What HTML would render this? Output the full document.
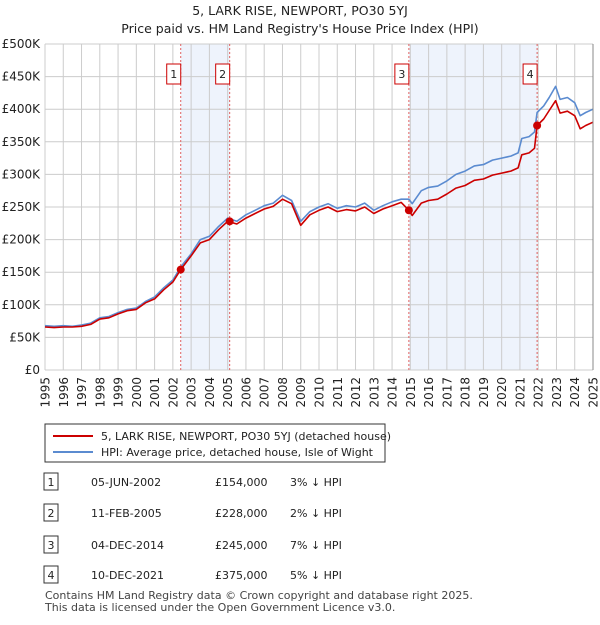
<!DOCTYPE html>
<html><head><meta charset="utf-8"><style>
body{margin:0;background:#fff;font-family:"Liberation Sans","DejaVu Sans",sans-serif;}
svg text{font-family:"DejaVu Sans","Liberation Sans",sans-serif;}
</style></head><body>
<svg id="c" width="600" height="620" viewBox="0 0 600 620" xmlns="http://www.w3.org/2000/svg">
<text x="300" y="15" text-anchor="middle" font-size="12.5" fill="#222">5, LARK RISE, NEWPORT, PO30 5YJ</text>
<text x="300" y="33" text-anchor="middle" font-size="12.5" fill="#222">Price paid vs. HM Land Registry's House Price Index (HPI)</text>
<g id="plot"></g>
<g>
<rect x="45" y="424" width="340" height="38" fill="#fff" stroke="#333" stroke-width="1"/>
<line x1="53" y1="436" x2="93" y2="436" stroke="#cc0000" stroke-width="2"/>
<text x="101" y="440" font-size="11" fill="#222">5, LARK RISE, NEWPORT, PO30 5YJ (detached house)</text>
<line x1="53" y1="452" x2="93" y2="452" stroke="#5b8bd0" stroke-width="2"/>
<text x="101" y="456" font-size="11" fill="#222">HPI: Average price, detached house, Isle of Wight</text>
</g>
<g id="table"></g>
<text x="45" y="599" font-size="11" fill="#444">Contains HM Land Registry data © Crown copyright and database right 2025.</text>
<text x="45" y="611" font-size="11" fill="#444">This data is licensed under the Open Government Licence v3.0.</text>
</svg>
<script>
const years=[1995.0,1995.5,1996.0,1996.5,1997.0,1997.5,1998.0,1998.5,1999.0,1999.5,2000.0,2000.5,2001.0,2001.5,2002.0,2002.43,2003.0,2003.5,2004.0,2004.5,2005.0,2005.5,2006.0,2006.5,2007.0,2007.5,2008.0,2008.5,2009.0,2009.5,2010.0,2010.5,2011.0,2011.5,2012.0,2012.5,2013.0,2013.5,2014.0,2014.5,2014.92,2015.1,2015.6,2016.0,2016.5,2017.0,2017.5,2018.0,2018.5,2019.0,2019.5,2020.0,2020.5,2020.9,2021.1,2021.5,2021.8,2021.94,2022.3,2022.6,2022.95,2023.2,2023.6,2024.0,2024.3,2024.6,2025.0];
const hpiValues=[68,67,68,67,69,72,80,82,88,93,95,105,112,126,138,158,178,200,205,220,233,228,238,245,252,256,268,260,228,243,250,255,248,252,250,256,245,252,258,262,262,255,275,280,282,290,300,305,313,315,322,325,328,333,355,358,365,395,405,418,435,415,418,410,390,395,400];
const propertyValues=[66,65,66,66,67,70,78,80,86,91,93,103,109,123,135,154,175,195,200,215,228,224,233,240,247,251,262,255,222,238,245,250,243,246,244,250,240,247,252,257,245,237,256,260,262,270,279,283,291,293,299,302,305,310,330,333,340,375,385,398,413,394,397,390,370,375,380];
const saleLabels=["1","2","3","4"];
const saleDates=[2002.43,2005.11,2014.92,2021.94];
const salePrices=[154,228,245,375];
const saleDateText=["05-JUN-2002","11-FEB-2005","04-DEC-2014","10-DEC-2021"];
const salePriceText=["£154,000","£228,000","£245,000","£375,000"];
const saleHpiText=["3% ↓ HPI","2% ↓ HPI","7% ↓ HPI","5% ↓ HPI"];
const yTicks=[0,50,100,150,200,250,300,350,400,450,500];
const yTickLabels=["£0","£50K","£100K","£150K","£200K","£250K","£300K","£350K","£400K","£450K","£500K"];
const xTicks=[1995,1996,1997,1998,1999,2000,2001,2002,2003,2004,2005,2006,2007,2008,2009,2010,2011,2012,2013,2014,2015,2016,2017,2018,2019,2020,2021,2022,2023,2024,2025];

const NS="http://www.w3.org/2000/svg";
const X0=45,X1=593,Y0=370,Y1=44;
const xs=v=>X0+(v-1995)/30*(X1-X0);
const ys=v=>Y0-(v/500)*(Y0-Y1);
const plot=document.getElementById('plot');
function mk(tag,attrs,parent){const e=document.createElementNS(NS,tag);for(const k in attrs)e.setAttribute(k,attrs[k]);(parent||plot).appendChild(e);return e;}
for(let i=0;i<saleDates.length;i+=2){
 const r=mk('rect',{x:xs(saleDates[i]),y:Y1,width:xs(saleDates[i+1])-xs(saleDates[i]),height:Y0-Y1,fill:'#eef3fc'});
 
 
}
yTicks.forEach((t,i)=>{
 const l=mk('line',{x1:X0,x2:X1,y1:ys(t),y2:ys(t),stroke:'#cccccc','stroke-width':1});
 
 
 const tx=mk('text',{x:X0-5,y:ys(t)+4,'text-anchor':'end','font-size':12,fill:'#222'});
 tx.textContent=yTickLabels[i];
 
 
});
xTicks.forEach(t=>{
 const l=mk('line',{x1:xs(t),x2:xs(t),y1:Y1,y2:Y0,stroke:'#cccccc','stroke-width':1});
 
 
 const x=xs(t)+4.5,y=Y0+7;
 const tx=mk('text',{x:x,y:y,'text-anchor':'end','font-size':12,fill:'#222',transform:'rotate(-90 '+x+' '+y+')'});
 tx.textContent=t;
 
 
});
saleDates.forEach((d,i)=>{
 const l=mk('line',{x1:xs(d),x2:xs(d),y1:Y1,y2:Y0,stroke:'#e06060','stroke-width':1,'stroke-dasharray':'2,2'});
 
 
});
function path(vals,color,name){
 let d='';vals.forEach((v,i)=>{d+=(i?'L':'M')+xs(years[i]).toFixed(1)+','+ys(v).toFixed(1);});
 const p=mk('path',{d:d,fill:'none',stroke:color,'stroke-width':1.6,'stroke-linejoin':'round'});
 
 
}
path(hpiValues,'#5b8bd0','hpi-line');
path(propertyValues,'#cc0000','property-price-line');
saleDates.forEach((d,i)=>{
 const c=mk('circle',{cx:xs(d),cy:ys(salePrices[i]),r:4,fill:'#cc0000'});
 
 
 const bx=xs(d)-14;
 const r=mk('rect',{x:bx,y:64,width:14,height:20,fill:'#fff',stroke:'#cc0000','stroke-width':1});
 
 
 const t=mk('text',{x:bx+7,y:78,'text-anchor':'middle','font-size':11,fill:'#222'});
 t.textContent=saleLabels[i];
 
 
});
const ax=mk('line',{x1:X1,x2:X1,y1:Y1,y2:Y0,stroke:'#888','stroke-width':1});


const tb=document.getElementById('table');
const rowY=[482,513,545,575];
saleLabels.forEach((s,i)=>{
 const y=rowY[i];
 const r=mk('rect',{x:44,y:y-9,width:14,height:17,fill:'#fff',stroke:'#333','stroke-width':1},tb);
 
 
 const cells=[[51,s,'middle'],[91,saleDateText[i],'start'],[215,salePriceText[i],'start'],[290,saleHpiText[i],'start']];
 cells.forEach(c=>{
  const t=mk('text',{x:c[0],y:y+4,'text-anchor':c[2],'font-size':11,fill:'#222'},tb);
  t.textContent=c[1];
  
  
 });
});
</script>
</body></html>
